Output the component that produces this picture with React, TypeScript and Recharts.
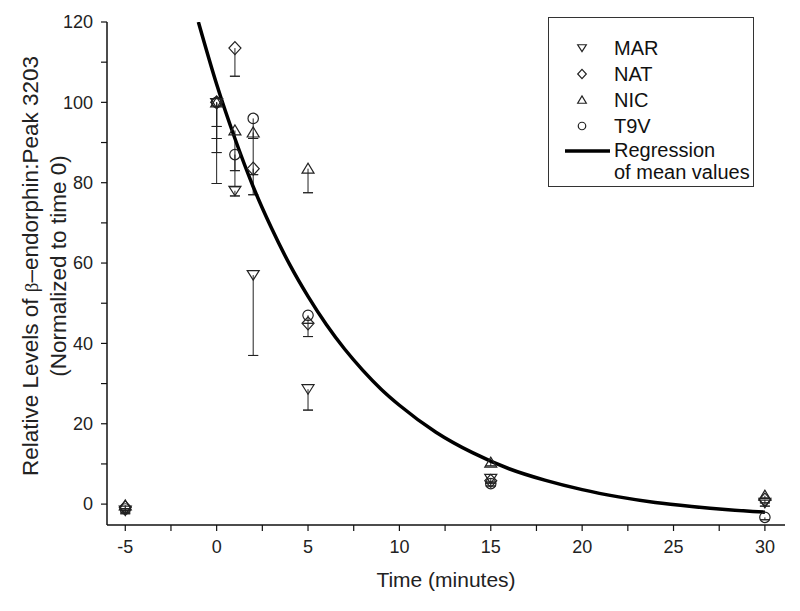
import { ComposedChart, Scatter, Line, XAxis, YAxis, ErrorBar, Legend } from 'recharts'

const FONT = '"Liberation Sans", Arial, Helvetica, sans-serif'
const INK = '#222'

// sampling times (minutes)
const TIMES = [-5, 0, 1, 2, 5, 15, 30]

const MAR = [-1.6, 99.8, 78, 57, 28.6, 6.3, 0.3]
const MAR_ERR = [0.8, 20, 1.3, 20, 5.2, 0.8, 0.8]
const NAT = [-0.8, 100, 113.5, 83.5, 45, 5.8, 1.1]
const NAT_ERR = [0.8, 6, 7, 1.5, 3.3, 0.6, 0.8]
const NIC = [-0.3, 100, 93, 92.5, 83.5, 10.3, 2.1]
const NIC_ERR = [0.8, 12.5, 14, 15.5, 6, 0.8, 0.6]
const T9V = [-1.2, 100, 87, 96, 47, 5.1, -3.3]
const T9V_ERR = [0.8, 9, 4, 5, 2, 0.6, 0.6]

// regression of mean values
const CURVE_X = [-1, 0, 1, 2, 3, 4, 5, 6, 7, 8, 9, 10, 12, 14, 16, 18, 20, 22, 24, 26, 28, 30]
const CURVE_Y = [120, 104.5, 91, 79, 68.7, 59.6, 51.7, 44.7, 38.6, 33.3, 28.6, 24.6, 17.9, 12.8, 8.8, 5.9, 3.6, 1.8, 0.4, -0.6, -1.4, -2]

const X_TICKS = [-5, -2.5, 0, 2.5, 5, 7.5, 10, 12.5, 15, 17.5, 20, 22.5, 25, 27.5, 30]
const Y_TICKS = [0, 10, 20, 30, 40, 50, 60, 70, 80, 90, 100, 110, 120]

type Kind = 'down' | 'diamond' | 'up' | 'circle'

const SERIES: { name: string; kind: Kind; values: number[]; errs: number[] }[] = [
  { name: 'MAR', kind: 'down', values: MAR, errs: MAR_ERR },
  { name: 'NAT', kind: 'diamond', values: NAT, errs: NAT_ERR },
  { name: 'NIC', kind: 'up', values: NIC, errs: NIC_ERR },
  { name: 'T9V', kind: 'circle', values: T9V, errs: T9V_ERR },
]

const curve = CURVE_X.map((x, i) => ({ x, y: CURVE_Y[i] }))

function Marker({ kind, cx, cy, s = 1 }: { kind: Kind; cx: number; cy: number; s?: number }) {
  const st = { fill: 'none', stroke: INK, strokeWidth: 1.2 }
  if (kind === 'down') {
    const w = 6 * s, t = 4.5 * s, b = 5 * s
    return <polygon points={`${cx - w},${cy - t} ${cx + w},${cy - t} ${cx},${cy + b}`} {...st} />
  }
  if (kind === 'up') {
    const w = 6 * s, t = 5.5 * s, b = 4.5 * s
    return <polygon points={`${cx - w},${cy + b} ${cx + w},${cy + b} ${cx},${cy - t}`} {...st} />
  }
  if (kind === 'diamond') {
    const w = 6 * s, h = 6.5 * s
    return <polygon points={`${cx},${cy - h} ${cx + w},${cy} ${cx},${cy + h} ${cx - w},${cy}`} {...st} />
  }
  return <circle cx={cx} cy={cy} r={5.2 * s} {...st} />
}

function YTick({ x, y, payload }: any) {
  if (payload.value % 20 !== 0) return <g />
  return (
    <text x={x} y={y} dy="0.35em" textAnchor="end" fill={INK} fontSize={18} fontFamily={FONT}>
      {payload.value}
    </text>
  )
}

function XTick({ x, y, payload }: any) {
  if (payload.value % 5 !== 0) return <g />
  return (
    <text x={x} y={y} dy="0.71em" textAnchor="middle" fill={INK} fontSize={18} fontFamily={FONT}>
      {payload.value}
    </text>
  )
}

function YTitle() {
  const cy = 266
  return (
    <g fontFamily={FONT} fontSize={22.5} fill={INK}>
      <text x={30} y={cy} dy="0.35em" textAnchor="middle" transform={`rotate(-90, 30, ${cy})`}>
        Relative Levels of <tspan fontFamily='"Liberation Serif", serif' fontSize={19}>β</tspan>–endorphin:Peak 3203
      </text>
      <text x={58} y={cy} dy="0.35em" textAnchor="middle" transform={`rotate(-90, 58, ${cy})`}>
        (Normalized to time 0)
      </text>
    </g>
  )
}

function XTitle({ viewBox }: any) {
  const cx = viewBox ? viewBox.x + viewBox.width / 2 : 446
  return (
    <text x={cx} y={587} textAnchor="middle" fill={INK} fontSize={21} fontFamily={FONT}>
      Time (minutes)
    </text>
  )
}

function LegendBox() {
  const row = { height: 26, display: 'flex', alignItems: 'center' } as const
  return (
    <div style={{ width: 206, height: 170, border: '1px solid #333', boxSizing: 'border-box', background: '#fff',
      fontFamily: FONT, fontSize: 20, color: '#111', paddingTop: 17, lineHeight: '22px', whiteSpace: 'nowrap' }}>
      {SERIES.map(s => (
        <div key={s.name} style={row}>
          <svg width={65} height={26} style={{ flex: 'none' }}>
            <Marker kind={s.kind} cx={33} cy={13} s={0.72} />
          </svg>
          <span>{s.name}</span>
        </div>
      ))}
      <div style={{ display: 'flex', alignItems: 'flex-start' }}>
        <svg width={65} height={22} style={{ flex: 'none' }}>
          <line x1={16} x2={61} y1={12} y2={12} stroke="#000" strokeWidth={3.5} />
        </svg>
        <span style={{ flex: 'none' }}>Regression<br />of mean values</span>
      </div>
    </div>
  )
}

export default function App() {
  return (
    <div style={{ position: 'absolute', left: 0, top: 0, width: 800, height: 611, background: '#fff' }}>
      <ComposedChart width={800} height={611} margin={{ top: 22, right: 15, bottom: 56, left: 47 }}>
        <XAxis type="number" dataKey="x" domain={[-6, 31.1]} allowDataOverflow ticks={X_TICKS} interval={0}
          height={30} tickSize={6} tickMargin={9} tick={<XTick />}
          axisLine={{ stroke: '#111', strokeWidth: 1.5 }} tickLine={{ stroke: '#111', strokeWidth: 1.2 }}
          label={{ content: (p: any) => <XTitle {...p} /> }} />
        <YAxis type="number" dataKey="y" domain={[-5.2, 120]} allowDataOverflow ticks={Y_TICKS} interval={0}
          width={60} tickSize={6} tickMargin={8} tick={<YTick />}
          axisLine={{ stroke: '#111', strokeWidth: 1.5 }} tickLine={{ stroke: '#111', strokeWidth: 1.2 }}
          label={{ content: () => <YTitle /> }} />
        {SERIES.map(s => (
          <Scatter key={s.name} name={s.name} dataKey="y" isAnimationActive={false}
            data={TIMES.map((t, i) => ({ x: t, y: s.values[i], err: s.errs[i] }))}
            shape={(p: any) => <Marker kind={s.kind} cx={p.cx} cy={p.cy} />}>
            <ErrorBar direction="y" dataKey={(d: any) => [d.err, 0]} width={0} stroke={INK} strokeWidth={1} />
            <ErrorBar direction="y" dataKey={(d: any) => [d.err, -d.err]} width={5} stroke={INK} strokeWidth={1} />
          </Scatter>
        ))}
        <Line data={curve} dataKey="y" type="monotone" stroke="#000" strokeWidth={3.5} dot={false}
          activeDot={false} isAnimationActive={false} legendType="none" />
        <Legend layout="vertical" align="center" verticalAlign="middle"
          wrapperStyle={{ left: 548, top: 17, width: 206 }} content={() => <LegendBox />} />
      </ComposedChart>
    </div>
  )
}
